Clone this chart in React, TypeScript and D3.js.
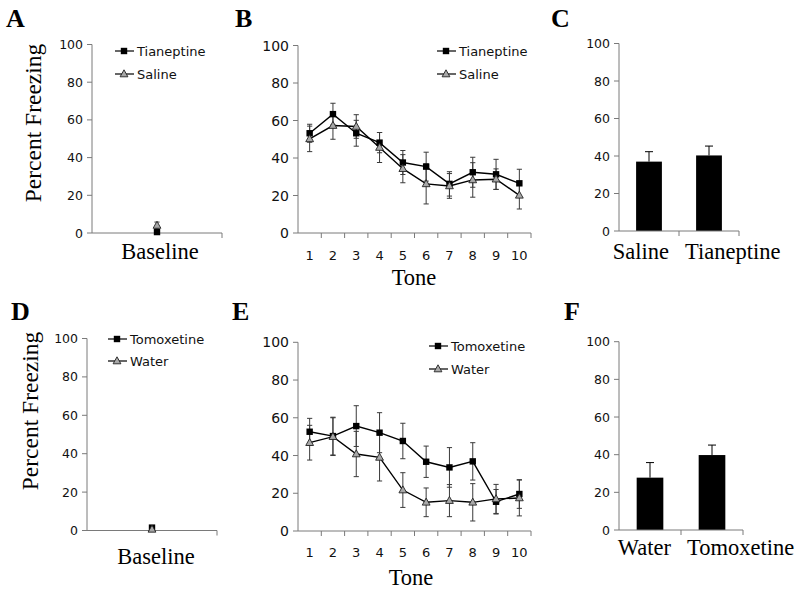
import React from "react";
import * as d3 from "d3";

// ---------- data ----------
const yTicks = [0, 20, 40, 60, 80, 100];
const tones = ["1", "2", "3", "4", "5", "6", "7", "8", "9", "10"];
const baselineCat = ["Baseline"];

const tianeptineMean = [53.2, 63.4, 53.2, 48.2, 37.6, 35.4, 26.2, 32.4, 31.3, 26.5];
const tianeptineSem = [4.8, 5.8, 6.9, 5.4, 6.4, 7.7, 6.5, 8.0, 8.0, 7.5];
const salineMean = [50.2, 57.3, 56.8, 45.6, 34.3, 26.2, 25.1, 28.3, 28.7, 20.1];
const salineSem = [6.8, 7.3, 6.3, 8.0, 7.5, 10.7, 6.6, 9.2, 5.5, 7.3];

const tomoxetineMean = [52.6, 50.3, 55.6, 52.1, 47.7, 36.7, 33.7, 36.9, 15.5, 19.6];
const tomoxetineSem = [7.1, 10.0, 10.8, 10.6, 9.4, 8.3, 10.5, 9.9, 6.5, 7.6];
const waterMean = [46.8, 50.0, 40.8, 39.0, 21.7, 15.2, 16.1, 15.2, 17.0, 17.5];
const waterSem = [9.2, 10.0, 12.0, 12.5, 9.2, 7.6, 8.5, 9.9, 7.7, 9.5];

const tianeptineBaselineMean = [0.5];
const tianeptineBaselineSem = [0.5];
const salineBaselineMean = [4.0];
const salineBaselineSem = [1.8];
const tomoxetineBaselineMean = [1.5];
const tomoxetineBaselineSem = [0.7];
const waterBaselineMean = [0.6];
const waterBaselineSem = [0.5];

const barCatsC = ["Saline", "Tianeptine"];
const barMeanC = [37.0, 40.3];
const barSemC = [5.3, 5.0];
const barCatsF = ["Water", "Tomoxetine"];
const barMeanF = [27.8, 39.8];
const barSemF = [8.0, 5.3];

// ---------- styles ----------
const SANS = "'DejaVu Sans', Verdana, sans-serif";
const SERIF = "'Liberation Serif', 'Times New Roman', serif";
const AXIS = "#7a7a7a";

type Series = { mean: number[]; sem: number[]; marker: "square" | "triangle"; name: string };

function Marker({ type, x, y }: { type: "square" | "triangle"; x: number; y: number }) {
  if (type === "square") {
    return <rect x={x - 3.2} y={y - 3.2} width={6.4} height={6.4} fill="#000" />;
  }
  return (
    <path
      d={`M${x},${y - 4.2} L${x + 3.9},${y + 2.8} L${x - 3.9},${y + 2.8} Z`}
      fill="#a8a8a8"
      stroke="#222"
      strokeWidth={0.9}
    />
  );
}

function YAxis({ x, y, fontSize = 12.5 }: { x: number; y: d3.ScaleLinear<number, number>; fontSize?: number }) {
  return (
    <g>
      <line x1={x} x2={x} y1={y(0)} y2={y(100)} stroke={AXIS} strokeWidth={1} />
      {yTicks.map((t) => (
        <g key={t}>
          <line x1={x - 5} x2={x} y1={y(t)} y2={y(t)} stroke={AXIS} strokeWidth={1} />
          <text x={x - 9} y={y(t)} dy="0.36em" textAnchor="end" fontFamily={SANS} fontSize={fontSize} fill="#111">
            {t}
          </text>
        </g>
      ))}
    </g>
  );
}

function XAxis({ xs, y0 }: { xs: d3.ScaleBand<string>; y0: number }) {
  const [a, b] = xs.range();
  const dom = xs.domain();
  return (
    <g>
      <line x1={a} x2={b} y1={y0} y2={y0} stroke={AXIS} strokeWidth={1} />
      {dom.map((d) => {
        const xe = (xs(d) as number) + xs.bandwidth();
        return <line key={d} x1={xe} x2={xe} y1={y0} y2={y0 + 5} stroke={AXIS} strokeWidth={1} />;
      })}
    </g>
  );
}

function Legend({ x, y, gap, series }: { x: number; y: number; gap: number; series: Series[] }) {
  return (
    <g>
      {series.map((s, i) => (
        <g key={s.name}>
          <line x1={x - 9} x2={x + 10} y1={y + i * gap} y2={y + i * gap} stroke="#000" strokeWidth={1.2} />
          <Marker type={s.marker} x={x} y={y + i * gap} />
          <text x={x + 13} y={y + i * gap} dy="0.36em" fontFamily={SANS} fontSize={13} fill="#111">
            {s.name}
          </text>
        </g>
      ))}
    </g>
  );
}

function PointPanel(props: {
  x0: number; x1: number; yTop: number; yBot: number; cats: string[]; series: Series[];
  showCatLabels: boolean; xLabel: string; xLabelX: number; xLabelY: number;
  legend: { x: number; y: number; gap: number };
  letter: string; letterX: number; letterY: number;
  yLabel?: { x: number; y: number };
  tickFont?: number; catFont?: number; catLabelY?: number;
}) {
  const { x0, x1, yTop, yBot, cats, series } = props;
  const y = d3.scaleLinear().domain([0, 100]).range([yBot, yTop]);
  const xs = d3.scaleBand<string>().domain(cats).range([x0, x1]);
  const cx = (d: string) => (xs(d) as number) + xs.bandwidth() / 2;
  const line = d3
    .line<number>()
    .x((_, i) => cx(cats[i]))
    .y((v) => y(v));
  return (
    <g>
      <text x={props.letterX} y={props.letterY} fontFamily={SERIF} fontWeight="bold" fontSize={26} fill="#000">
        {props.letter}
      </text>
      {props.yLabel && (
        <text
          transform={`translate(${props.yLabel.x},${props.yLabel.y}) rotate(-90)`}
          textAnchor="middle"
          fontFamily={SERIF}
          fontSize={23.5}
          fill="#000"
        >
          Percent Freezing
        </text>
      )}
      <YAxis x={x0} y={y} fontSize={props.tickFont} />
      <XAxis xs={xs} y0={yBot} />
      {props.showCatLabels &&
        cats.map((c) => (
          <text key={c} x={cx(c)} y={props.catLabelY} textAnchor="middle" fontFamily={SANS} fontSize={props.catFont} fill="#111">
            {c}
          </text>
        ))}
      <text x={props.xLabelX} y={props.xLabelY} textAnchor="middle" fontFamily={SERIF} fontSize={22.5} fill="#000">
        {props.xLabel}
      </text>
      {/* error bars */}
      {series.map((s) =>
        s.mean.map((m, i) => {
          const x = cx(cats[i]);
          const lo = y(Math.max(0, m - s.sem[i]));
          const hi = y(m + s.sem[i]);
          return (
            <g key={s.name + i} stroke="#3a3a3a" strokeWidth={1}>
              <line x1={x} x2={x} y1={lo} y2={hi} />
              <line x1={x - 2.6} x2={x + 2.6} y1={hi} y2={hi} />
              <line x1={x - 2.6} x2={x + 2.6} y1={lo} y2={lo} />
            </g>
          );
        })
      )}
      {series.map((s) =>
        s.mean.length > 1 ? (
          <path key={s.name + "l"} d={line(s.mean) || ""} fill="none" stroke="#000" strokeWidth={1.4} />
        ) : null
      )}
      {series.map((s) => s.mean.map((m, i) => <Marker key={s.name + "m" + i} type={s.marker} x={cx(cats[i])} y={y(m)} />))}
      <Legend x={props.legend.x} y={props.legend.y} gap={props.legend.gap} series={series} />
    </g>
  );
}

function BarPanel(props: {
  x0: number; x1: number; yTop: number; yBot: number; cats: string[]; mean: number[]; sem: number[];
  letter: string; letterX: number; letterY: number; labelY: number;
}) {
  const { x0, x1, yTop, yBot, cats, mean, sem } = props;
  const y = d3.scaleLinear().domain([0, 100]).range([yBot, yTop]);
  const xs = d3.scaleBand<string>().domain(cats).range([x0, x1]);
  const bw = xs.bandwidth() * 0.43;
  const mid = (xs(cats[1]) as number);
  return (
    <g>
      <text x={props.letterX} y={props.letterY} fontFamily={SERIF} fontWeight="bold" fontSize={26} fill="#000">
        {props.letter}
      </text>
      <YAxis x={x0} y={y} />
      {cats.map((c, i) => {
        const cx = (xs(c) as number) + xs.bandwidth() / 2;
        const top = y(mean[i]);
        const eh = y(mean[i] + sem[i]);
        return (
          <g key={c}>
            <line x1={cx} x2={cx} y1={top} y2={eh} stroke="#000" strokeWidth={1} />
            <line x1={cx - 4} x2={cx + 4} y1={eh} y2={eh} stroke="#000" strokeWidth={1} />
            <rect x={cx - bw / 2} y={top} width={bw} height={yBot - top} fill="#000" />
          </g>
        );
      })}
      <XAxis xs={xs} y0={yBot} />
      <text x={mid - 10} y={props.labelY} textAnchor="end" fontFamily={SERIF} fontSize={22.5} fill="#000">
        {cats[0]}
      </text>
      <text x={mid + 6} y={props.labelY} textAnchor="start" fontFamily={SERIF} fontSize={22.5} fill="#000">
        {cats[1]}
      </text>
    </g>
  );
}

export default function App() {
  const tianB: Series[] = [
    { name: "Tianeptine", mean: tianeptineBaselineMean, sem: tianeptineBaselineSem, marker: "square" },
    { name: "Saline", mean: salineBaselineMean, sem: salineBaselineSem, marker: "triangle" },
  ];
  const tianT: Series[] = [
    { name: "Tianeptine", mean: tianeptineMean, sem: tianeptineSem, marker: "square" },
    { name: "Saline", mean: salineMean, sem: salineSem, marker: "triangle" },
  ];
  const tomoB: Series[] = [
    { name: "Tomoxetine", mean: tomoxetineBaselineMean, sem: tomoxetineBaselineSem, marker: "square" },
    { name: "Water", mean: waterBaselineMean, sem: waterBaselineSem, marker: "triangle" },
  ];
  const tomoT: Series[] = [
    { name: "Tomoxetine", mean: tomoxetineMean, sem: tomoxetineSem, marker: "square" },
    { name: "Water", mean: waterMean, sem: waterSem, marker: "triangle" },
  ];
  return (
    <svg width={800} height={590} style={{ position: "absolute", left: 0, top: 0, background: "#fff" }}>
      <rect x={0} y={0} width={800} height={590} fill="#fff" />
      {/* A */}
      <PointPanel
        x0={92} x1={222} yTop={44.5} yBot={233} cats={baselineCat} series={tianB}
        showCatLabels={false} xLabel="Baseline" xLabelX={160} xLabelY={259}
        legend={{ x: 124, y: 51, gap: 23 }} letter="A" letterX={6} letterY={27}
        yLabel={{ x: 41, y: 123 }} tickFont={12.5}
      />
      {/* B */}
      <PointPanel
        x0={298} x1={531} yTop={45.5} yBot={233} cats={tones} series={tianT}
        showCatLabels={true} catLabelY={260} xLabel="Tone" xLabelX={414} xLabelY={285}
        legend={{ x: 446, y: 51, gap: 23 }} letter="B" letterX={235} letterY={27} tickFont={14} catFont={13}
      />
      {/* C */}
      <BarPanel
        x0={619} x1={739} yTop={43.5} yBot={231} cats={barCatsC} mean={barMeanC} sem={barSemC}
        letter="C" letterX={551} letterY={27} labelY={259}
      />
      {/* D */}
      <PointPanel
        x0={87} x1={217} yTop={338.5} yBot={530.5} cats={baselineCat} series={tomoB}
        showCatLabels={false} xLabel="Baseline" xLabelX={156} xLabelY={564}
        legend={{ x: 117, y: 339, gap: 22 }} letter="D" letterX={11} letterY={320}
        yLabel={{ x: 38, y: 411 }} tickFont={12.5}
      />
      {/* E */}
      <PointPanel
        x0={298} x1={531} yTop={342.3} yBot={531} cats={tones} series={tomoT}
        showCatLabels={true} catLabelY={557} xLabel="Tone" xLabelX={411} xLabelY={585}
        legend={{ x: 438, y: 346, gap: 23 }} letter="E" letterX={232} letterY={320} tickFont={14} catFont={13}
      />
      {/* F */}
      <BarPanel
        x0={619} x1={743} yTop={341.7} yBot={530} cats={barCatsF} mean={barMeanF} sem={barSemF}
        letter="F" letterX={564} letterY={320} labelY={555}
      />
    </svg>
  );
}
